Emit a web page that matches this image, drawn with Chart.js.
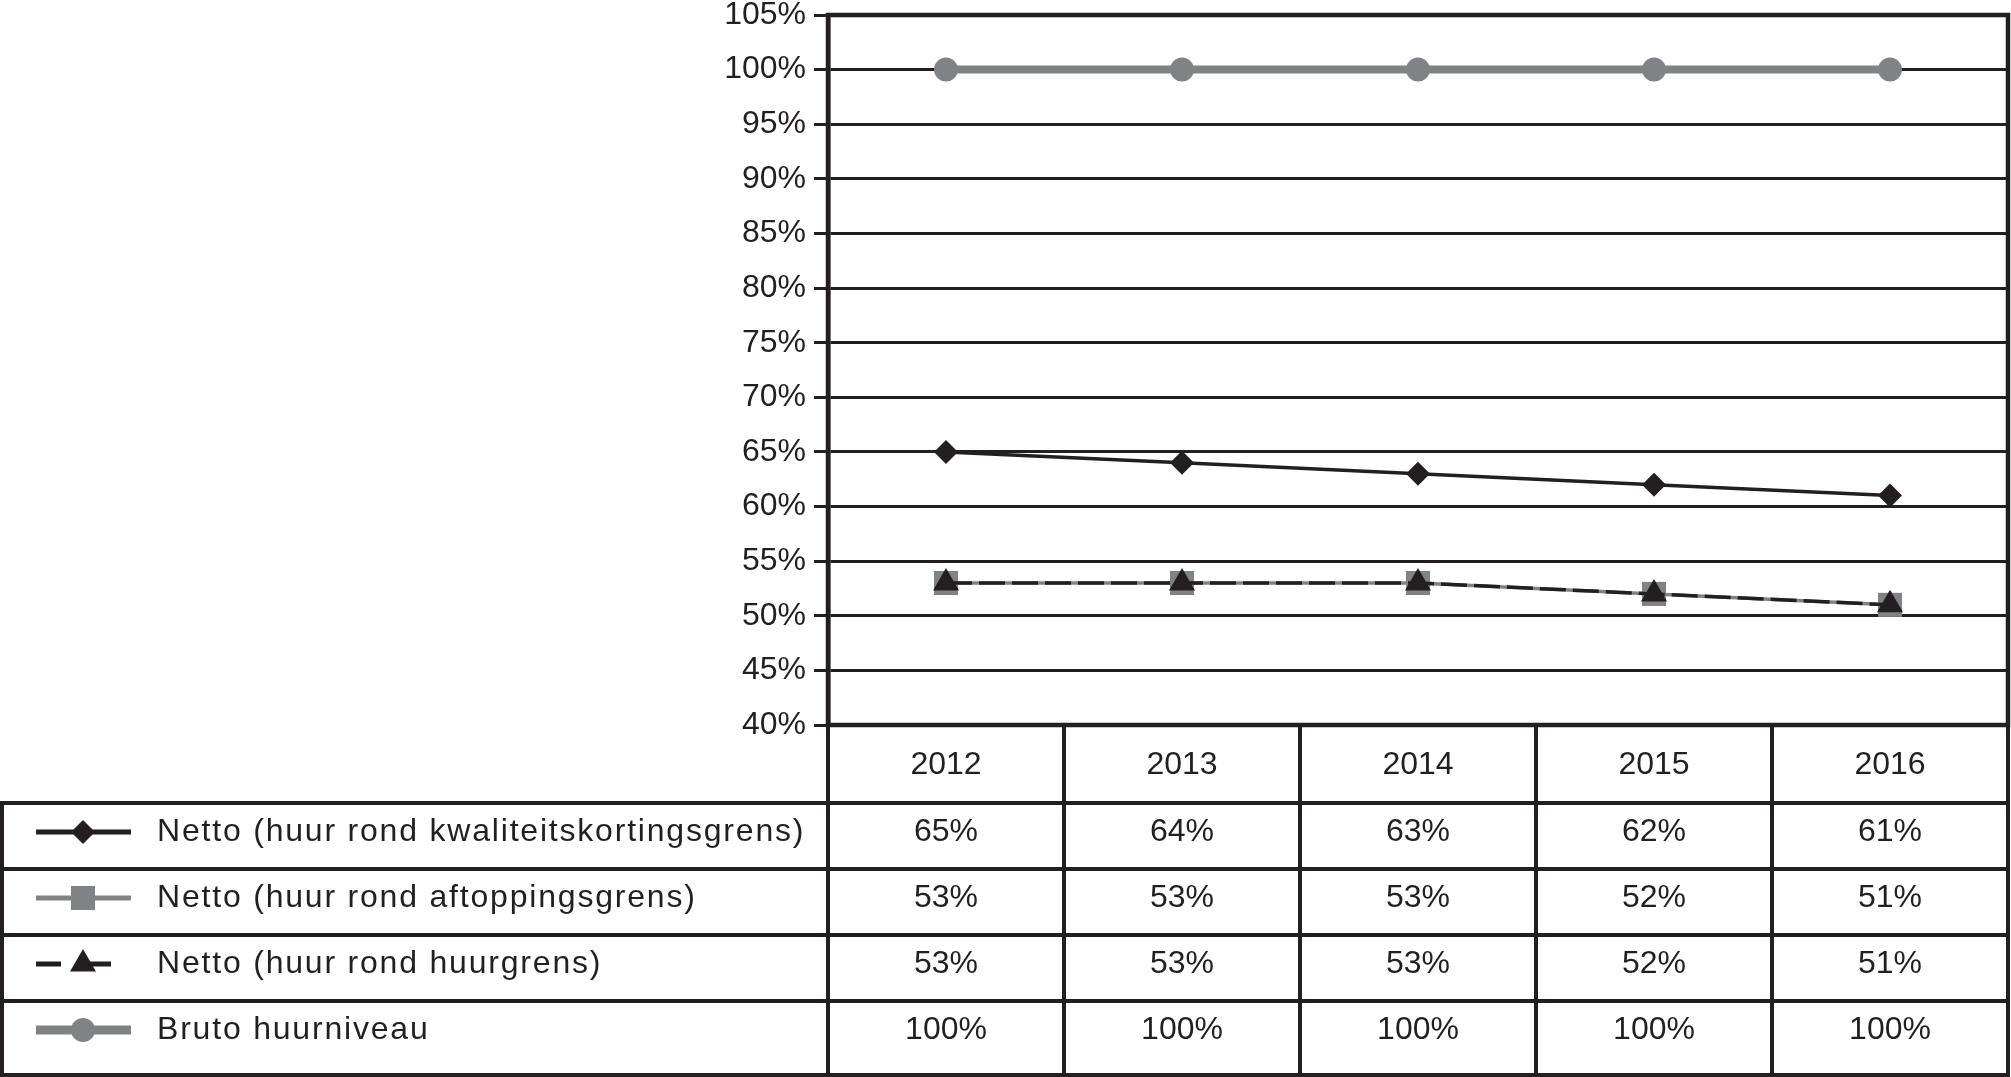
<!DOCTYPE html>
<html lang="nl">
<head>
    <meta charset="UTF-8">
    <title>Netto en bruto huurniveau 2012-2016</title>
    <script src="https://cdn.jsdelivr.net/npm/chart.js"></script>
    <style>
        html, body {
            margin: 0;
            padding: 0;
            background: #ffffff;
        }
        canvas {
            display: block;
        }
    </style>
</head>
<body>
    <canvas id="huurChart" width="2011" height="1077"></canvas>

    <script>
        const years = ['2012', '2013', '2014', '2015', '2016'];
        const kwaliteitskorting = [65, 64, 63, 62, 61];
        const aftopping = [53, 53, 53, 52, 51];
        const huurgrens = [53, 53, 53, 52, 51];
        const bruto = [100, 100, 100, 100, 100];

        const seriesLabels = [
            'Netto (huur rond kwaliteitskortingsgrens)',
            'Netto (huur rond aftoppingsgrens)',
            'Netto (huur rond huurgrens)',
            'Bruto huurniveau'
        ];

        const yMin = 40;
        const yMax = 105;
        const yStep = 5;

        const BLACK = '#231f20';
        const GRAY = '#808285';
        const FONT = '"Liberation Sans", Arial, Helvetica, sans-serif';
        const FONT_SIZE = 32;

        // frame around the plot area
        const framePlugin = {
            id: 'frame',
            beforeDatasetsDraw(chart) {
                const a = chart.chartArea;
                const ctx = chart.ctx;
                ctx.save();
                ctx.strokeStyle = BLACK;
                ctx.lineWidth = 4.5;
                ctx.strokeRect(a.left, a.top, a.right - a.left, a.bottom - a.top);
                ctx.restore();
            }
        };

        // data table under the chart, with legend keys in the first column
        const tablePlugin = {
            id: 'dataTable',
            afterDraw(chart) {
                const ctx = chart.ctx;
                const a = chart.chartArea;
                const x = chart.scales.x;
                const headerBottom = a.bottom + 78;
                const rowH = 66;
                const tableBottom = 1075;
                const rowTops = [0, 1, 2, 3].map(i => headerBottom + i * rowH);

                // column edges
                const edges = [a.left];
                for (let i = 1; i < years.length; i++) {
                    edges.push((x.getPixelForValue(i - 1) + x.getPixelForValue(i)) / 2);
                }
                edges.push(a.right);

                ctx.save();
                ctx.strokeStyle = BLACK;
                ctx.lineWidth = 4;

                // horizontal lines
                ctx.beginPath();
                rowTops.forEach(y => {
                    ctx.moveTo(0, y);
                    ctx.lineTo(a.right, y);
                });
                ctx.moveTo(0, tableBottom);
                ctx.lineTo(a.right + 2, tableBottom);
                // left border
                ctx.moveTo(2, headerBottom);
                ctx.lineTo(2, tableBottom);
                // column dividers
                edges.forEach(ex => {
                    ctx.moveTo(ex, a.bottom);
                    ctx.lineTo(ex, tableBottom);
                });
                ctx.stroke();

                ctx.fillStyle = BLACK;
                ctx.font = FONT_SIZE + 'px ' + FONT;
                ctx.textAlign = 'center';
                ctx.textBaseline = 'middle';

                // year header
                years.forEach((yr, i) => {
                    ctx.fillText(yr, x.getPixelForValue(i), (a.bottom + headerBottom) / 2 + 1);
                });

                // rows follow table order; datasets carry the styles
                const rowDatasets = [0, 1, 2, 3].map(i => chart.data.datasets[i]);
                rowDatasets.forEach((ds, r) => {
                    const cy = rowTops[r] + 29;

                    // key symbol: line + marker
                    ctx.save();
                    ctx.strokeStyle = ds.borderColor;
                    ctx.lineWidth = ds.keyLineWidth;
                    ctx.setLineDash(ds.borderDash ? [25, 25] : []);
                    ctx.beginPath();
                    ctx.moveTo(36, cy);
                    ctx.lineTo(131, cy);
                    ctx.stroke();
                    ctx.setLineDash([]);
                    ctx.fillStyle = ds.pointBackgroundColor;
                    ctx.strokeStyle = ds.pointBackgroundColor;
                    Chart.helpers.drawPoint(ctx, {
                        pointStyle: ds.pointStyle,
                        radius: ds.pointRadius,
                        rotation: 0,
                        borderWidth: 0
                    }, 83, cy);
                    ctx.restore();

                    // series name, slightly tracked like the original typeface
                    ctx.save();
                    ctx.textAlign = 'left';
                    ctx.letterSpacing = '1.8px';
                    ctx.fillText(ds.label, 157, cy);
                    ctx.restore();

                    ds.data.forEach((v, i) => {
                        ctx.fillText(v + '%', x.getPixelForValue(i), cy);
                    });
                });

                ctx.restore();
            }
        };

        const ctx = document.getElementById('huurChart').getContext('2d');
        const huurChart = new Chart(ctx, {
            type: 'line',
            data: {
                labels: years,
                datasets: [
                    {
                        label: seriesLabels[0],
                        data: kwaliteitskorting,
                        borderColor: BLACK,
                        borderWidth: 3.5,
                        keyLineWidth: 5,
                        pointStyle: 'rectRot',
                        pointRadius: 12,
                        pointBackgroundColor: BLACK,
                        pointBorderWidth: 0,
                        order: 0
                    },
                    {
                        label: seriesLabels[1],
                        data: aftopping,
                        borderColor: GRAY,
                        borderWidth: 3.5,
                        keyLineWidth: 5,
                        pointStyle: 'rect',
                        pointRadius: 17,
                        pointBackgroundColor: GRAY,
                        pointBorderWidth: 0,
                        order: 2
                    },
                    {
                        label: seriesLabels[2],
                        data: huurgrens,
                        borderColor: BLACK,
                        borderWidth: 3.5,
                        borderDash: [26, 7],
                        keyLineWidth: 5,
                        pointStyle: 'triangle',
                        pointRadius: 15,
                        pointBackgroundColor: BLACK,
                        pointBorderWidth: 0,
                        order: 1
                    },
                    {
                        label: seriesLabels[3],
                        data: bruto,
                        borderColor: GRAY,
                        borderWidth: 8,
                        keyLineWidth: 9,
                        pointStyle: 'circle',
                        pointRadius: 12,
                        pointBackgroundColor: GRAY,
                        pointBorderWidth: 0,
                        order: 3
                    }
                ]
            },
            options: {
                responsive: false,
                animation: false,
                devicePixelRatio: 1,
                layout: {
                    autoPadding: false,
                    padding: { top: 15, right: 3, bottom: 352, left: 0 }
                },
                elements: {
                    line: { tension: 0 }
                },
                scales: {
                    x: {
                        type: 'category',
                        offset: true,
                        display: false
                    },
                    y: {
                        min: yMin,
                        max: yMax,
                        afterFit: function(scale) {
                            scale.width = 828;
                            scale.paddingTop = 0;
                            scale.paddingBottom = 0;
                        },
                        ticks: {
                            stepSize: yStep,
                            padding: 8,
                            color: BLACK,
                            font: { family: FONT, size: FONT_SIZE, lineHeight: 0.8 },
                            callback: function(value) {
                                return value + '%';
                            }
                        },
                        grid: {
                            color: BLACK,
                            lineWidth: 3,
                            tickLength: 14,
                            drawTicks: true
                        },
                        border: {
                            display: true,
                            color: BLACK,
                            width: 4.5
                        }
                    }
                },
                plugins: {
                    legend: { display: false },
                    tooltip: { enabled: false }
                }
            },
            plugins: [framePlugin, tablePlugin]
        });
    </script>
</body>
</html>
